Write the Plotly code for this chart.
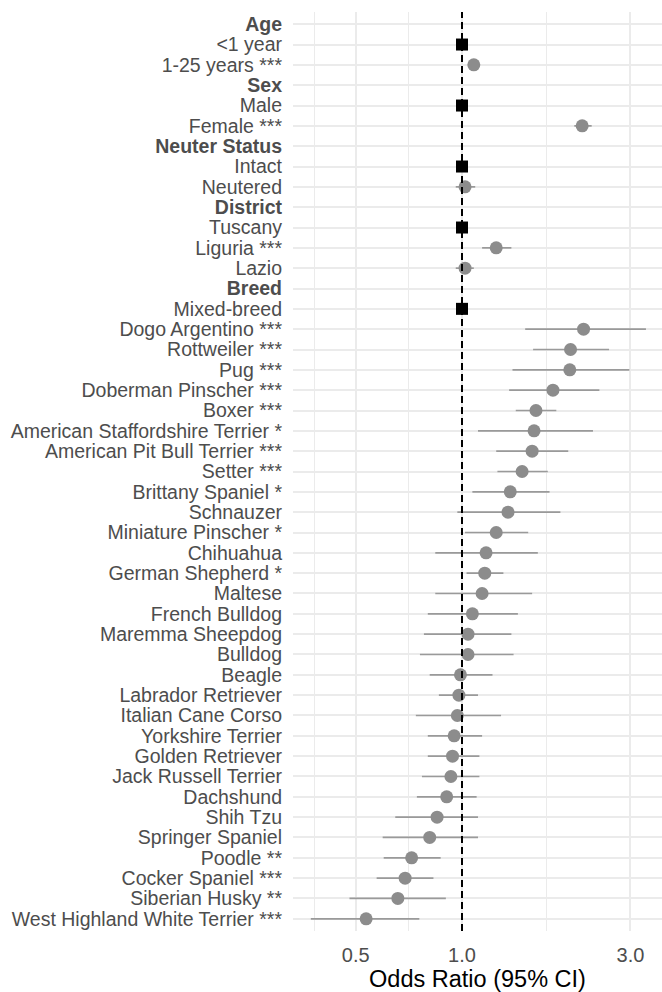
import plotly.graph_objects as go

# Rows of the forest plot, top to bottom
labels = [
    "Age", "<1 year", "1-25 years ***",
    "Sex", "Male", "Female ***",
    "Neuter Status", "Intact", "Neutered",
    "District", "Tuscany", "Liguria ***", "Lazio",
    "Breed", "Mixed-breed", "Dogo Argentino ***", "Rottweiler ***", "Pug ***",
    "Doberman Pinscher ***", "Boxer ***", "American Staffordshire Terrier *",
    "American Pit Bull Terrier ***", "Setter ***", "Brittany Spaniel *",
    "Schnauzer", "Miniature Pinscher *", "Chihuahua", "German Shepherd *",
    "Maltese", "French Bulldog", "Maremma Sheepdog", "Bulldog", "Beagle",
    "Labrador Retriever", "Italian Cane Corso", "Yorkshire Terrier",
    "Golden Retriever", "Jack Russell Terrier", "Dachshund", "Shih Tzu",
    "Springer Spaniel", "Poodle **", "Cocker Spaniel ***", "Siberian Husky **",
    "West Highland White Terrier ***",
]

# "h" = group header, "r" = reference level, "e" = estimated level
row_kind = [
    "h", "r", "e",
    "h", "r", "e",
    "h", "r", "e",
    "h", "r", "e", "e",
    "h", "r", "e", "e", "e",
    "e", "e", "e",
    "e", "e", "e",
    "e", "e", "e", "e",
    "e", "e", "e", "e", "e",
    "e", "e", "e",
    "e", "e", "e", "e",
    "e", "e", "e", "e",
    "e",
]

odds_ratio = [
    None, 1.0, 1.08,
    None, 1.0, 2.19,
    None, 1.0, 1.02,
    None, 1.0, 1.25, 1.02,
    None, 1.0, 2.21, 2.03, 2.02,
    1.81, 1.62, 1.60,
    1.58, 1.48, 1.37,
    1.35, 1.25, 1.17, 1.16,
    1.14, 1.07, 1.04, 1.04, 0.99,
    0.98, 0.97, 0.95,
    0.94, 0.93, 0.905, 0.85,
    0.81, 0.72, 0.69, 0.658,
    0.535,
]

ci_lower = [
    None, None, 1.05,
    None, None, 2.08,
    None, None, 0.96,
    None, None, 1.14, 0.96,
    None, None, 1.51, 1.59, 1.39,
    1.36, 1.42, 1.11,
    1.25, 1.26, 1.07,
    0.97, 1.02, 0.84, 1.03,
    0.84, 0.80, 0.78, 0.76, 0.81,
    0.86, 0.74, 0.80,
    0.80, 0.77, 0.745, 0.647,
    0.596, 0.60, 0.573, 0.48,
    0.373,
]

ci_upper = [
    None, None, 1.11,
    None, None, 2.33,
    None, None, 1.09,
    None, None, 1.38, 1.08,
    None, None, 3.32, 2.61, 2.98,
    2.45, 1.85, 2.35,
    2.00, 1.75, 1.77,
    1.90, 1.54, 1.64, 1.31,
    1.58, 1.44, 1.38, 1.40, 1.22,
    1.11, 1.29, 1.14,
    1.12, 1.12, 1.10, 1.11,
    1.11, 0.87, 0.83, 0.90,
    0.757,
]

x_ticks = [0.5, 1.0, 3.0]
x_tick_text = ["0.5", "1.0", "3.0"]
x_minor = [0.381, 0.707, 1.732]

rows = list(range(len(labels)))
tick_text = [f"<b>{t}</b>" if k == "h" else t for t, k in zip(labels, row_kind)]

est_y = [i for i in rows if row_kind[i] == "e"]
est_x = [odds_ratio[i] for i in est_y]
err_plus = [ci_upper[i] - odds_ratio[i] for i in est_y]
err_minus = [odds_ratio[i] - ci_lower[i] for i in est_y]

ref_y = [i for i in rows if row_kind[i] == "r"]
ref_x = [odds_ratio[i] for i in ref_y]

fig = go.Figure()

# Confidence intervals
fig.add_trace(go.Scatter(
    x=est_x, y=est_y, mode="markers",
    marker=dict(size=0.1, color="rgba(0,0,0,0)"),
    error_x=dict(type="data", symmetric=False, array=err_plus,
                 arrayminus=err_minus, width=0, thickness=1.7,
                 color="#9a9a9a"),
    hoverinfo="skip", showlegend=False,
))

# Point estimates
fig.add_trace(go.Scatter(
    x=est_x, y=est_y, mode="markers",
    marker=dict(symbol="circle", size=13, color="#8c8c8c", line=dict(width=0)),
    showlegend=False,
))

# Reference categories
fig.add_trace(go.Scatter(
    x=ref_x, y=ref_y, mode="markers",
    marker=dict(symbol="square", size=12, color="black", line=dict(width=0)),
    showlegend=False,
))

# Line of no effect
fig.add_shape(type="line", xref="x", yref="paper", x0=1, x1=1, y0=0, y1=1,
              line=dict(color="black", width=2, dash="7px,4px"), layer="above")

font_family = "Liberation Sans, Arial, sans-serif"

fig.update_layout(
    width=662, height=992,
    margin=dict(l=293, r=0, t=12, b=61),
    paper_bgcolor="white", plot_bgcolor="white",
    font=dict(family=font_family, color="#4d4d4d"),
    xaxis=dict(
        type="log",
        range=[-0.4788, 0.5666],
        tickvals=x_ticks, ticktext=x_tick_text,
        tickfont=dict(size=20, color="#4d4d4d"),
        showgrid=True, gridcolor="#ebebeb", gridwidth=2,
        minor=dict(tickvals=x_minor, showgrid=True, gridcolor="#ebebeb",
                   gridwidth=1, ticks=""),
        zeroline=False, showline=False, ticks="",
        ticklabelstandoff=10,
        title=dict(text="Odds Ratio (95% CI)", standoff=3,
                   font=dict(size=23.5, color="black")),
    ),
    yaxis=dict(
        range=[len(labels) - 0.4, -0.6],
        tickvals=rows, ticktext=tick_text,
        tickfont=dict(size=19.5, color="#4d4d4d"),
        showgrid=True, gridcolor="#ebebeb", gridwidth=2,
        zeroline=False, showline=False, ticks="",
        ticklabelstandoff=10,
    ),
)

fig.write_html("out.html")
